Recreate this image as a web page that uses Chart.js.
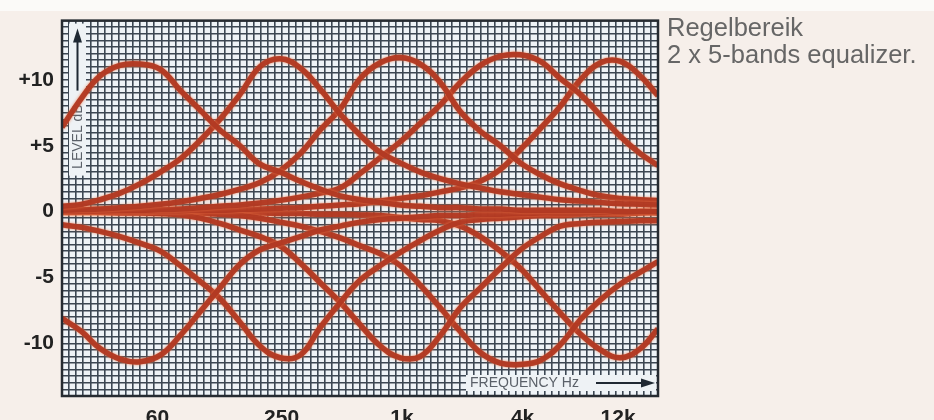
<!DOCTYPE html>
<html>
<head>
<meta charset="utf-8">
<script src="https://cdn.jsdelivr.net/npm/chart.js@4.4.0/dist/chart.umd.min.js"></script>
<style>
  html, body { margin: 0; padding: 0; background: #f6efea; overflow: hidden; }
  #wrap { position: relative; width: 934px; height: 440px; }
</style>
</head>
<body>
<div id="wrap"><canvas id="eq"></canvas></div>
<script>
// frequency samples (Hz) shared by all curves
var freqs = [20, 25, 31, 39, 49, 62, 78, 98, 123, 155, 195, 246, 310, 390, 491, 618, 778, 980, 1234, 1552, 1954, 2460, 3100, 3900, 4910, 6180, 7780, 9800, 12330, 15500, 19000];

// level in dB
var boost60  = [6.4, 8.6, 10.3, 11.1, 11.2, 10.8, 9.2, 7.7, 6.2, 5.0, 3.6, 3.0, 2.3, 1.7, 1.2, 0.9, 0.7, 0.5, 0.4, 0.3, 0.3, 0.2, 0.2, 0.1, 0.1, 0.1, 0.1, 0.1, 0, 0, 0];
var boost250 = [0.4, 0.55, 0.9, 1.4, 2.1, 3.0, 4.0, 5.4, 7.0, 8.9, 11.0, 11.6, 10.9, 9.3, 7.4, 5.8, 4.5, 3.7, 3.0, 2.5, 2.1, 1.8, 1.5, 1.3, 1.1, 0.9, 0.8, 0.7, 0.6, 0.55, 0.5];
var boost1k  = [0.1, 0.15, 0.2, 0.3, 0.4, 0.55, 0.75, 1.0, 1.3, 1.7, 2.2, 3.1, 4.4, 6.2, 7.8, 10.1, 11.3, 11.7, 11.2, 9.8, 7.6, 6.1, 5.0, 3.7, 2.8, 2.1, 1.6, 1.2, 1.0, 0.9, 0.85];
var boost4k  = [0, 0, 0.05, 0.1, 0.1, 0.15, 0.2, 0.3, 0.4, 0.5, 0.65, 0.85, 1.1, 1.4, 1.8, 2.9, 4.1, 5.3, 6.7, 8.1, 9.8, 11.1, 11.8, 11.9, 11.4, 10.1, 8.9, 7.3, 5.7, 4.4, 3.5];
var boost12k = [0, 0, 0, 0, 0, 0.05, 0.05, 0.1, 0.1, 0.15, 0.2, 0.25, 0.3, 0.4, 0.5, 0.6, 0.8, 1.0, 1.2, 1.5, 1.8, 2.3, 3.2, 4.7, 6.3, 8.0, 10.0, 11.3, 11.4, 10.3, 8.8];
var cut60    = [-8.1, -9.1, -10.4, -11.2, -11.4, -10.9, -9.4, -7.6, -5.8, -4.0, -2.9, -2.4, -1.9, -1.4, -1.1, -0.8, -0.6, -0.5, -0.4, -0.3, -0.3, -0.2, -0.2, -0.15, -0.1, -0.1, -0.1, -0.05, -0.05, 0, 0];
var cut250   = [-1.0, -1.2, -1.5, -1.9, -2.4, -3.0, -4.1, -5.3, -6.6, -8.4, -10.2, -11.1, -10.9, -8.8, -6.9, -5.2, -4.1, -3.1, -2.2, -1.4, -0.8, -0.6, -0.5, -0.4, -0.3, -0.3, -0.2, -0.2, -0.2, -0.1, -0.1];
var cut1k    = [0, 0, -0.05, -0.1, -0.1, -0.15, -0.25, -0.5, -0.9, -1.4, -1.9, -2.6, -3.9, -5.4, -6.9, -8.6, -10.2, -11.1, -11.0, -9.4, -7.3, -5.8, -4.3, -2.9, -1.9, -1.1, -0.9, -0.8, -0.75, -0.7, -0.7];
var cut4k    = [0, 0, 0, 0, -0.05, -0.1, -0.1, -0.15, -0.2, -0.3, -0.5, -0.8, -1.1, -1.5, -2.0, -2.6, -3.2, -4.1, -5.6, -7.3, -9.1, -10.7, -11.5, -11.6, -11.3, -10.1, -8.2, -6.7, -5.5, -4.6, -3.8];
var cut12k   = [0, 0, 0, 0, 0, 0, 0, -0.05, -0.05, -0.1, -0.1, -0.15, -0.15, -0.2, -0.2, -0.25, -0.3, -0.45, -0.6, -0.7, -1.1, -1.9, -3.0, -4.3, -6.0, -7.7, -9.3, -10.5, -11.1, -10.4, -8.9];

var curves = [boost60, boost250, boost1k, boost4k, boost12k, cut60, cut250, cut1k, cut4k, cut12k];

var tickFreqs  = [60, 250, 1000, 4000, 12000];
var tickLabels = ['60', '250', '1k', '4k', '12k'];
var levelTicks  = [10, 5, 0, -5, -10];
var levelLabels = ['+10', '+5', '0', '-5', '-10'];

var gridCols = 84;
var gridColor = '#3c4753';
var labelFont = { family: "'Liberation Sans', Arial, sans-serif", size: 21, weight: 'bold' };

function toPoints(vals) {
  return vals.map(function (v, i) { return { x: freqs[i], y: v }; });
}

var datasets = curves.map(function (c) {
  return {
    data: toPoints(c),
    borderColor: 'rgba(176,56,34,0.95)',
    borderWidth: 5.5,
    pointRadius: 0,
    fill: false,
    tension: 0.4,
    xAxisID: 'x',
    yAxisID: 'y'
  };
});

var decor = {
  id: 'decor',
  beforeDraw: function (chart) {
    var c = chart.ctx, a = chart.chartArea;
    c.save();
    c.fillStyle = '#fbfaf8';
    c.fillRect(0, 0, chart.width, 11);
    c.fillStyle = '#eef3f7';
    c.fillRect(a.left, a.top, a.right - a.left, a.bottom - a.top);
    c.restore();
  },
  beforeDatasetsDraw: function (chart) {
    var c = chart.ctx, a = chart.chartArea;
    c.save();
    // level strip
    c.fillStyle = '#eef2f5';
    c.fillRect(a.left + 7, a.top + 3, 17, 152);
    c.strokeStyle = '#1f2933';
    c.fillStyle = '#1f2933';
    c.lineWidth = 2;
    var ax = a.left + 15.5;
    c.beginPath();
    c.moveTo(ax, a.top + 70);
    c.lineTo(ax, a.top + 18);
    c.stroke();
    c.beginPath();
    c.moveTo(ax, a.top + 8);
    c.lineTo(ax - 4.5, a.top + 22);
    c.lineTo(ax + 4.5, a.top + 22);
    c.closePath();
    c.fill();
    c.translate(ax + 1, a.top + 116);
    c.rotate(-Math.PI / 2);
    c.fillStyle = '#5a6068';
    c.font = "14px 'Liberation Sans Narrow', 'Liberation Sans', sans-serif";
    c.textAlign = 'center';
    c.textBaseline = 'middle';
    c.fillText('LEVEL dB', 0, 0);
    c.restore();

    // frequency strip
    c.save();
    c.fillStyle = '#eef2f5';
    c.fillRect(a.left + 404, a.bottom - 21, a.right - a.left - 406, 16);
    c.fillStyle = '#5a6068';
    c.font = "14px 'Liberation Sans Narrow', 'Liberation Sans', sans-serif";
    c.textAlign = 'left';
    c.textBaseline = 'middle';
    c.fillText('FREQUENCY Hz', a.left + 408, a.bottom - 13);
    c.strokeStyle = '#1f2933';
    c.fillStyle = '#1f2933';
    c.lineWidth = 2;
    c.beginPath();
    c.moveTo(a.right - 62, a.bottom - 13);
    c.lineTo(a.right - 14, a.bottom - 13);
    c.stroke();
    c.beginPath();
    c.moveTo(a.right - 3, a.bottom - 13);
    c.lineTo(a.right - 17, a.bottom - 17.5);
    c.lineTo(a.right - 17, a.bottom - 8.5);
    c.closePath();
    c.fill();
    c.restore();
  },
  beforeDatasetDraw: function (chart) {
    var c = chart.ctx;
    c.save();
    c.shadowColor = 'rgba(240,118,70,0.9)';
    c.shadowBlur = 3;
  },
  afterDatasetDraw: function (chart) {
    chart.ctx.restore();
  },
  afterDraw: function (chart) {
    var c = chart.ctx, a = chart.chartArea;
    c.save();
    c.strokeStyle = '#262b31';
    c.lineWidth = 2.5;
    c.strokeRect(a.left, a.top, a.right - a.left, a.bottom - a.top);
    c.fillStyle = '#666666';
    c.font = "25.5px 'Liberation Sans', Arial, sans-serif";
    c.textAlign = 'left';
    c.textBaseline = 'alphabetic';
    c.fillText('Regelbereik', a.right + 9, 36);
    c.fillText('2 x 5-bands equalizer.', a.right + 9, 63);
    c.restore();
  }
};

new Chart(document.getElementById('eq'), {
  type: 'line',
  data: { datasets: datasets },
  options: {
    responsive: true,
    maintainAspectRatio: false,
    animation: false,
    layout: { padding: { left: 0, top: 20, right: 276, bottom: 0 } },
    plugins: { legend: { display: false }, tooltip: { enabled: false } },
    scales: {
      x: {
        type: 'logarithmic',
        position: 'bottom',
        min: 20,
        max: 19000,
        grid: { display: false },
        border: { display: false },
        afterBuildTicks: function (s) {
          s.ticks = tickFreqs.map(function (f) { return { value: f }; });
        },
        afterFit: function (s) { s.height = 44; },
        ticks: {
          autoSkip: false,
          maxRotation: 0,
          padding: 2,
          color: '#222',
          font: labelFont,
          callback: function (v) {
            var i = tickFreqs.indexOf(v);
            return i >= 0 ? tickLabels[i] : '';
          }
        }
      },
      gx: {
        type: 'linear',
        position: 'bottom',
        min: 0,
        max: gridCols,
        afterBuildTicks: function (s) {
          var t = [];
          for (var i = 0; i <= gridCols; i++) t.push({ value: i });
          s.ticks = t;
        },
        afterFit: function (s) { s.height = 0; },
        ticks: { display: false, autoSkip: false },
        grid: { color: gridColor, lineWidth: 1.6, drawTicks: false },
        border: { display: false }
      },
      y: {
        type: 'linear',
        min: -14,
        max: 14.5,
        afterFit: function (s) { s.width = 62; },
        grid: { color: gridColor, lineWidth: 1.6, drawTicks: false },
        border: { display: false },
        ticks: {
          stepSize: 0.5,
          autoSkip: false,
          padding: 8,
          color: '#222',
          font: labelFont,
          callback: function (v) {
            for (var i = 0; i < levelTicks.length; i++) {
              if (Math.abs(levelTicks[i] - v) < 1e-6) return levelLabels[i];
            }
            return '';
          }
        }
      }
    }
  },
  plugins: [decor]
});
</script>
</body>
</html>
